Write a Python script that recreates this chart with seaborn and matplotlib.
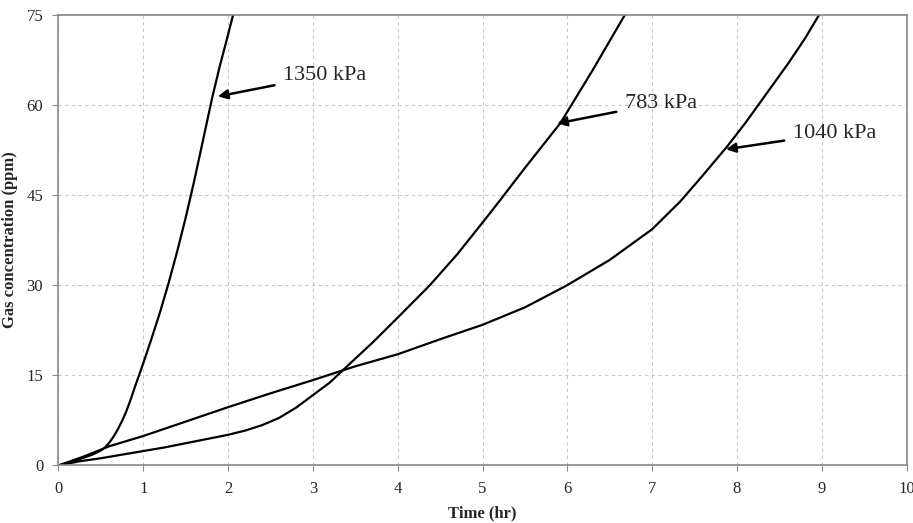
import numpy as np
import pandas as pd
import matplotlib
matplotlib.use('Agg')
import matplotlib.pyplot as plt
import seaborn as sns

# values
t_1350 = [0, 0.1, 0.2, 0.3, 0.4, 0.5, 0.55, 0.6, 0.65, 0.7, 0.75, 0.8, 0.85, 0.9, 0.95, 1.0,
          1.1, 1.2, 1.3, 1.4, 1.5, 1.6, 1.7, 1.81, 1.9, 1.98, 2.06]
c_1350 = [0, 0.4, 0.8, 1.3, 1.8, 2.5, 3.0, 3.8, 4.8, 6.0, 7.4, 9.0, 10.9, 13.0, 15.0, 17.0,
          21.2, 25.6, 30.4, 35.6, 41.2, 47.3, 53.8, 61, 66.3, 70.6, 75]

t_783 = [0, 0.25, 0.5, 0.75, 1, 1.25, 1.5, 1.75, 2, 2.2, 2.4, 2.6, 2.8, 3, 3.2, 3.38, 3.7,
         4, 4.38, 4.7, 5, 5.2, 5.5, 5.92, 6.3, 6.68]
c_783 = [0, 0.7, 1.2, 1.8, 2.4, 3.0, 3.7, 4.4, 5.1, 5.8, 6.7, 7.9, 9.6, 11.7, 13.8, 16.2, 20.4,
         24.6, 30, 35.1, 40.4, 44, 49.5, 57, 65.8, 75]

t_1040 = [0, 0.3, 0.6, 1, 1.5, 2, 2.5, 3, 3.5, 4, 4.5, 5, 5.5, 6, 6.5, 7, 7.33, 7.6, 7.88,
          8.1, 8.35, 8.6, 8.8, 8.97]
c_1040 = [0, 1.5, 3.2, 4.9, 7.3, 9.7, 12, 14.2, 16.5, 18.5, 21, 23.4, 26.3, 30.0, 34.2, 39.3,
          43.9, 48.3, 53.0, 57.0, 61.9, 66.8, 71.0, 75]

labels = ['1350 kPa', '783 kPa', '1040 kPa']
x_ticks = list(range(0, 11))
y_ticks = [0, 15, 30, 45, 60, 75]

df = pd.concat([
    pd.DataFrame({'time': t_1350, 'gas': c_1350, 'pressure': labels[0]}),
    pd.DataFrame({'time': t_783, 'gas': c_783, 'pressure': labels[1]}),
    pd.DataFrame({'time': t_1040, 'gas': c_1040, 'pressure': labels[2]}),
])

sns.set_style('white')
plt.rcParams['font.family'] = ['Liberation Serif', 'DejaVu Serif']

fig = plt.figure(figsize=(9.13, 5.23), dpi=100)
ax = fig.add_axes([0.064, 0.11, 0.929, 0.862])

for lab in labels:
    sub = df[df['pressure'] == lab]
    sns.lineplot(data=sub, x='time', y='gas', sort=False, color='black',
                 linewidth=1.6, ax=ax, legend=False)

ax.set_xlim(0, 10)
ax.set_ylim(0, 75)
ax.set_xticks(x_ticks)
ax.set_yticks(y_ticks)
ax.grid(True, color='#c8c8c8', linestyle=(0, (3, 3)), linewidth=0.8)
for s in ax.spines.values():
    s.set_color('#888888')
    s.set_linewidth(1.2)
ax.tick_params(axis='both', direction='out', length=4, color='#888888',
               labelsize=12, pad=7, left=True, bottom=True)

ax.set_xlabel('Time (hr)', fontsize=12, fontweight='bold', labelpad=6)
ax.set_ylabel('Gas concentration (ppm)', fontsize=12, fontweight='bold')
ax.yaxis.set_label_coords(-0.048, 0.5)

# arrows and labels
notes = [
    ('1350 kPa', (1.88, 61.4), (2.65, 64.9)),
    ('783 kPa', (5.88, 56.9), (6.68, 60.3)),
    ('1040 kPa', (7.87, 52.6), (8.66, 55.3)),
]
for txt, tip, pos in notes:
    ax.annotate(txt, xy=tip, xytext=pos, fontsize=16, va='center', ha='left',
                arrowprops=dict(arrowstyle='-|>', color='black', lw=1.8,
                                mutation_scale=14, shrinkA=4, shrinkB=0))

fig.savefig('out.png', dpi=100)
